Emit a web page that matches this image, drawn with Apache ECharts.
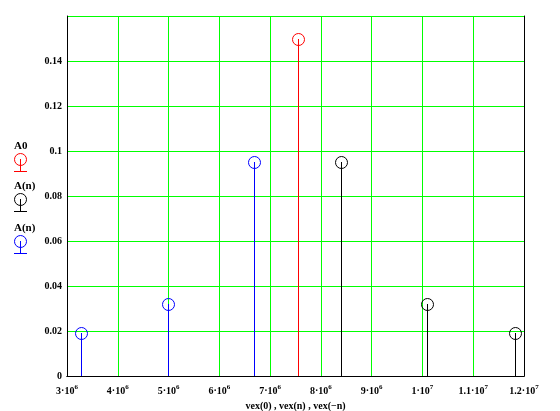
<!DOCTYPE html>
<html>
<head>
<meta charset="utf-8">
<script src="https://cdn.jsdelivr.net/npm/echarts@6/dist/echarts.min.js"></script>
<style>html,body{margin:0;padding:0;background:#fff;}#c{width:560px;height:411px;}</style>
</head>
<body>
<div id="c"></div>
<script>
// ---- data ----
var vex0 = [7.56e6];
var A0 = [0.15];
var vexPos = [8.41e6, 10.1e6, 11.84e6];
var Apos = [0.095, 0.032, 0.019];
var vexNeg = [6.69e6, 5.0e6, 3.28e6];
var Aneg = [0.095, 0.032, 0.019];
var legendNames = ['A0', 'A(n)', 'A(n)'];
var seriesColors = ['#ff0000', '#000000', '#0000ff'];
var xTitle = 'vex(0) , vex(n) , vex(\u2212n)';
var xMin = 3e6, xMax = 1.2e7, xStep = 1e6;
var yMin = 0, yMax = 0.16, yStep = 0.02;

var FONT = 'Liberation Serif';

function pairs(xs, ys) { return xs.map(function (x, i) { return [x, ys[i]]; }); }

function stemRender(color) {
  return function (params, api) {
    var x = api.value(0), y = api.value(1);
    var top = api.coord([x, y]);
    var base = api.coord([x, 0]);
    var px = Math.floor(top[0]);
    var ty = Math.round(top[1]);
    var by = Math.round(base[1]);
    return {
      type: 'group',
      children: [
        { type: 'rect', shape: { x: px, y: ty, width: 1, height: by - ty },
          style: { fill: color, stroke: null } },
        { type: 'circle', shape: { cx: px + 0.5, cy: ty + 0.5, r: 6 },
          style: { fill: null, stroke: color, lineWidth: 1 } }
      ]
    };
  };
}

function xLabel(v) {
  var e = Math.floor(Math.log10(v) + 1e-9);
  var m = v / Math.pow(10, e);
  var ms = (Math.round(m * 10) / 10).toString();
  return '{b|' + ms + '\u00b710}{s|' + e + '}';
}

var legendTops = [147, 187, 229];
var legendGraphics = [];
legendNames.forEach(function (name, i) {
  var t = legendTops[i];
  var c = seriesColors[i];
  legendGraphics.push(
    { type: 'text', left: 14, top: t - 6, style: { text: name, font: 'bold 11px ' + FONT, fill: '#000' } },
    { type: 'circle', shape: { cx: 20.5, cy: t + 12.5, r: 6 }, style: { fill: null, stroke: c, lineWidth: 1 } },
    { type: 'rect', shape: { x: 20, y: t + 12, width: 1, height: 12 }, style: { fill: c, stroke: null } },
    { type: 'rect', shape: { x: 14, y: t + 24, width: 13, height: 1 }, style: { fill: c, stroke: null } }
  );
});

var axisLineOnly = { show: true, lineStyle: { color: '#000', width: 1 } };

var chart = echarts.init(document.getElementById('c'));
chart.setOption({
  animation: false,
  backgroundColor: '#fff',
  grid: { left: 67, right: 36, top: 16, bottom: 35, containLabel: false, outerBoundsMode: 'none' },
  xAxis: [{
    type: 'value', min: xMin, max: xMax, interval: xStep,
    name: xTitle, nameLocation: 'middle', nameGap: 21,
    nameTextStyle: { fontFamily: FONT, fontWeight: 'bold', fontSize: 10, color: '#000' },
    axisLine: axisLineOnly,
    axisTick: { show: false },
    splitLine: { show: true, lineStyle: { color: '#00ff00', width: 1 } },
    axisLabel: {
      showMinLabel: true, showMaxLabel: true, margin: 8,
      formatter: xLabel,
      rich: {
        b: { fontFamily: FONT, fontWeight: 'bold', fontSize: 10, color: '#000' },
        s: { fontFamily: FONT, fontWeight: 'bold', fontSize: 7, color: '#000', padding: [0, 0, 8, 0] }
      }
    }
  }, {
    type: 'value', position: 'top', min: xMin, max: xMax, interval: xStep, z: 10,
    axisLine: axisLineOnly, axisTick: { show: false }, axisLabel: { show: false }, splitLine: { show: false }
  }],
  yAxis: [{
    type: 'value', min: yMin, max: yMax, interval: yStep,
    axisLine: axisLineOnly,
    axisTick: { show: false },
    splitLine: { show: true, lineStyle: { color: '#00ff00', width: 1 } },
    axisLabel: {
      margin: 5, fontFamily: FONT, fontWeight: 'bold', fontSize: 10, color: '#000',
      formatter: function (v) { return Math.abs(v - yMax) < 1e-9 ? '' : String(+v.toFixed(2)); }
    }
  }, {
    type: 'value', position: 'right', min: yMin, max: yMax, interval: yStep, z: 10,
    axisLine: axisLineOnly, axisTick: { show: false }, axisLabel: { show: false }, splitLine: { show: false }
  }],
  graphic: legendGraphics,
  series: [
    { type: 'custom', name: legendNames[0], data: pairs(vex0, A0), renderItem: stemRender(seriesColors[0]), z: 5 },
    { type: 'custom', name: legendNames[1], data: pairs(vexPos, Apos), renderItem: stemRender(seriesColors[1]), z: 5 },
    { type: 'custom', name: legendNames[2], data: pairs(vexNeg, Aneg), renderItem: stemRender(seriesColors[2]), z: 5 }
  ]
});
</script>
</body>
</html>
